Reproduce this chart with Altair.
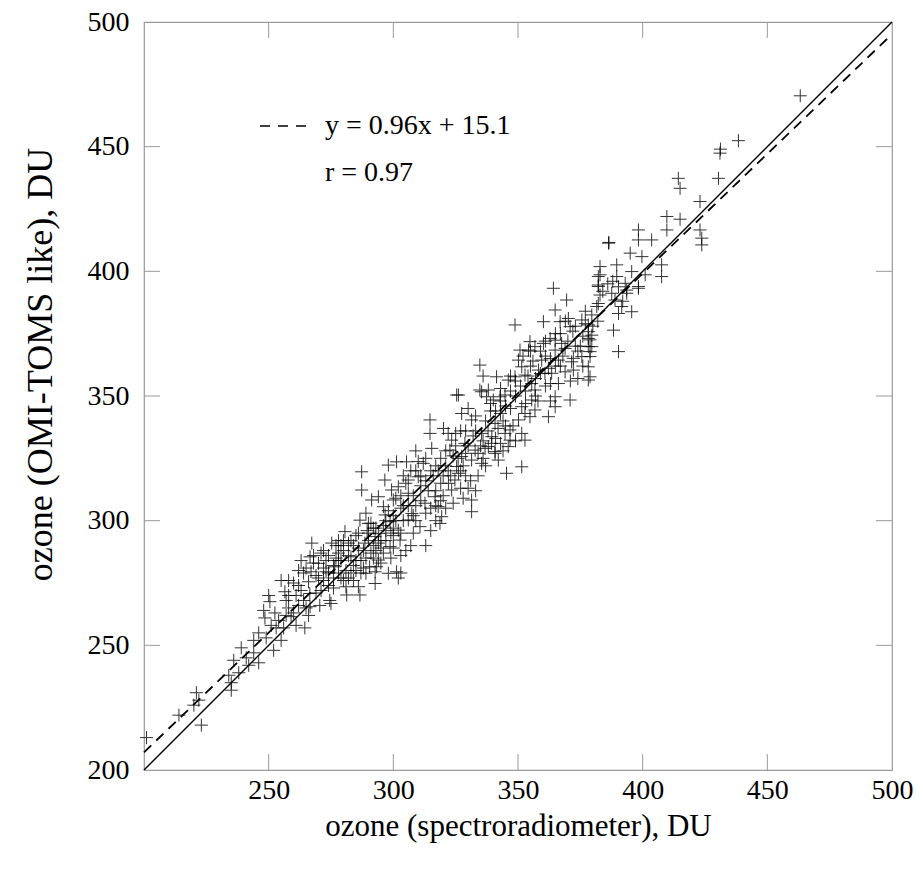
import altair as alt
import pandas as pd

# ---- data ----
spectro = [
    201, 214, 220, 221, 222, 223, 235, 235, 234, 236, 238, 239, 241, 242, 244, 246, 244,
    246, 248, 248.5, 249, 250, 250.5, 252, 252.5, 253, 254, 255, 256, 256.5, 257, 258, 259, 260, 258, 255, 251,
    261, 262, 263, 264, 264.5, 265, 266, 266.5, 266.6, 267, 266.6, 267.3, 268, 269, 270, 270.5, 271, 272, 273, 274, 274.5, 275, 275.3, 273, 272, 269, 262, 263,
    276, 276.5, 277, 278, 278, 279, 280, 280.6, 281, 281.3, 282, 283, 284, 285, 285, 286, 286.6, 286.6, 287, 288, 288.6, 289, 289.5, 290, 290, 287.3, 287.3, 276, 279, 282, 284, 286, 283, 280, 278,
    290.5, 291.3, 292, 292.7, 292.7, 292.7, 293.3, 294, 294, 294, 295, 296, 296.6, 296.7, 297, 298, 298, 298.7, 298.7, 299.3, 300, 300, 301.3, 301.3, 302, 302, 302.7, 303, 304, 304, 291, 289, 293, 295, 297, 299, 300, 296, 292, 303, 305, 303, 301, 302, 303,
    305.3, 306, 306, 307.4, 308, 309, 310, 310, 310.7, 312, 312.7, 313, 314, 314.7, 314.7, 315.4, 316, 316.7, 317, 318, 318.7, 319.4, 308, 306, 311, 313, 315, 317, 319, 320, 307, 309,
    320.1, 321, 322.1, 322.7, 323.4, 323.4, 324.7, 325.4, 325.4, 326.1, 326.1, 327.4, 327.4, 328, 328.7, 329, 330, 331.4, 331.4, 331.4, 331.4, 332.8, 333, 334, 334.7, 334.7, 335.4, 335.4, 335.4, 321, 324, 326, 329, 322, 330, 333, 327, 320,
    336.8, 337.4, 338.1, 338.1, 339.4, 339.5, 340.1, 340.8, 340.8, 340.8, 341.4, 342.1, 342.8, 344.8, 344.8, 345.4, 346.1, 346.1, 346.8, 346.8, 348.8, 348.8, 350.2, 350.2, 337, 339, 342, 343, 344, 347, 349, 336, 343, 348, 336,
    350.8, 351.5, 351.5, 351.5, 351.5, 352.8, 352.8, 352.8, 354.2, 354.8, 354.8, 355.5, 355.5, 356.8, 356.8, 356.8, 358.2, 359.5, 360.2, 360.2, 360.8, 362.2, 362.2, 362.9, 363.5, 364.2, 364.9, 364.9, 364.9, 364.9, 364.9, 353, 357, 361, 358, 363, 355,
    366.2, 366.2, 366.9, 367.5, 368.9, 368.9, 369.5, 370.2, 370.9, 370.9, 371.5, 372.2, 372.2, 373, 375.6, 375.6, 376, 378.2, 378.2, 378.2, 378.2, 378.9, 378.9, 378.2, 378.9, 378.2, 378.9, 379.6, 379.6, 379.6, 367, 374,
    381.6, 382.2, 382.2, 382.2, 382.9, 382.9, 382.9, 382.2, 386.3, 386.5, 387.6, 388.3, 388.9, 389.6, 389.6, 390.3, 390.3, 390.3, 391.6, 393, 393.6, 393.6, 395, 395.6, 395.6, 398.3, 398.3, 398.3, 398.3, 399.7, 401,
    403.6, 407.6, 407.6, 409.7, 409.7, 414.3, 415, 415, 423, 423, 423.7, 423.7, 430.4, 431, 431.2, 438.4, 463.2,
    271, 274, 277, 279, 281, 283, 285, 287, 289, 291, 293, 295, 297, 299, 300,
    304, 306, 308, 309, 311, 313, 315, 317, 318, 319,
    322, 324, 325, 327, 328, 330, 332, 334, 336, 338, 341, 343, 344, 345,
    347, 349, 352, 354, 356, 359, 361, 363, 365, 368, 370, 372, 374, 376, 377,
    258, 260, 262, 264, 266, 268, 270, 272, 274, 276, 278, 280, 282, 284, 286, 288, 290, 292, 294, 296, 298, 300, 257, 261, 265,
    301, 303, 305, 307, 309, 311, 313, 315, 317, 319, 321, 323, 325, 327, 329, 331, 333, 335, 337, 339,
    341, 343, 345, 347, 349, 351, 353, 355, 357, 359, 361, 363, 365, 367, 369, 371, 373, 375, 377, 380, 382, 384, 386, 388, 392,
]
omi = [
    213, 222, 226, 231, 228, 218, 232, 235, 238, 244, 239, 249, 245, 242, 247, 243, 252,
    255, 264, 261, 253, 270, 267.5, 248, 263, 257, 260, 276, 257, 271.5, 268, 276, 261.5, 263, 265, 252, 258,
    270, 274, 272, 268, 257, 265, 275.5, 270.8, 265.5, 279.5, 285.5, 291, 283, 278, 282.9, 266, 287, 281, 279.5, 274, 268, 266.8, 291, 284, 276, 271, 280, 284,
    282, 281.5, 285, 287, 279, 290, 288, 295.6, 273.5, 270.2, 277, 285.5, 290, 280, 294, 273.5, 270.2, 300.2, 284, 288, 291, 278.9, 296, 292, 298.9, 319.6, 312.3, 277, 284, 291, 282, 289, 279, 276, 292,
    281.5, 308.3, 285, 274.8, 279.5, 293.6, 281.5, 284.2, 294.9, 309.6, 289, 305.6, 316.3, 302.3, 292, 278.9, 322.3, 289.6, 299.6, 312.3, 308.3, 294, 279.5, 323.6, 296.2, 313.6, 292.2, 286, 300, 318, 299, 303, 297, 283, 296, 285, 302, 287, 290, 305, 288, 310, 300, 277, 279,
    323.6, 300.3, 316.3, 302.9, 295, 320, 317.6, 323.7, 297.6, 323, 307, 290, 312, 340.4, 335, 329, 318, 309.6, 300, 305.6, 298.9, 301.6, 310, 306, 314, 303, 296, 322, 315, 310, 290, 328,
    337, 322, 315, 328.3, 332.3, 312.3, 316.3, 321.7, 350.4, 319, 350.4, 343, 325.7, 309, 331, 318, 313, 340.4, 324.3, 308.3, 303.6, 328.3, 336, 318, 362.4, 352.4, 351.7, 335, 323, 305, 307, 325, 327, 335, 345, 312, 313, 318,
    329, 349.7, 352.4, 329.7, 331, 333.7, 348.4, 327.7, 339, 327, 357.7, 324.3, 349.7, 350.4, 335, 319, 356.4, 329.7, 336.4, 332.3, 378.5, 357.7, 364.4, 340.4, 340, 344, 337, 343, 328, 345, 350, 358, 353, 338, 325,
    368.4, 361.7, 345.7, 335, 321.6, 358.4, 343, 332.3, 368.4, 371.8, 341.7, 355, 348.4, 369.8, 352.4, 344.4, 360.4, 364.4, 379.8, 371.1, 359.1, 361.1, 341.7, 373.1, 359.1, 393.2, 384.5, 372.4, 368.4, 349.7, 345.7, 352, 357, 366, 348, 355, 362,
    364.4, 355, 379.8, 371.1, 369.1, 359.7, 388.5, 381.1, 377.8, 348.4, 363.7, 365.1, 360.4, 370, 380.5, 365.8, 374, 378.5, 373.1, 361.7, 356.4, 365.8, 357.7, 375.8, 372.5, 369.8, 367.8, 382.5, 374.4, 369.8, 375, 357,
    385.9, 394.5, 387.1, 393.9, 390.5, 401.9, 398.6, 397.9, 411.3, 411.6, 391.2, 376.4, 388.5, 402.6, 397.9, 393.8, 383.1, 367.8, 385.9, 395.2, 392.5, 391.2, 407.3, 383.8, 399.9, 393.2, 416.6, 412.6, 393.9, 405.9, 398.6,
    412.6, 402.6, 397.9, 422, 416.6, 437.3, 433.3, 420.9, 428, 416.6, 413.3, 410.6, 437.3, 447.4, 449, 452.4, 470.4,
    272, 286, 290, 277, 280, 292, 284, 279, 285, 287, 288, 292, 300, 295, 297,
    306, 311, 302, 306, 308, 316, 305, 312, 320, 308,
    320, 326, 330, 336, 322, 330, 334, 327, 332, 336, 344, 331, 340, 346,
    352, 356, 366, 358, 364, 368, 354, 365, 362, 366, 372, 376, 368, 362, 379,
    270, 275, 266, 279, 262, 286, 277, 288, 279, 273, 284, 292, 286, 276, 295, 281, 295, 297, 291, 298, 304, 289, 262, 258, 281,
    309, 295, 315, 320, 300, 318, 325, 320, 306, 325, 328, 318, 335, 320, 336, 316, 342, 330, 322, 347,
    333, 348, 338, 358, 332, 354, 347, 368, 350, 359, 372, 348, 375, 362, 380, 356, 378, 370, 384, 378, 380, 392, 395, 396, 388,
]
n = min(len(spectro), len(omi))
points = pd.DataFrame({"x": spectro[:n], "y": omi[:n]})

one_to_one_x = [200, 500]
one_to_one_y = [200, 500]
fit_x = [200, 500]
fit_y = [207.1, 495.1]  # y = 0.96x + 15.1

x_tick_labels = [250, 300, 350, 400, 450, 500]
y_tick_labels = [200, 250, 300, 350, 400, 450, 500]
inner_ticks = [250, 300, 350, 400, 450]

W, H = 748, 748
FONT = "'Liberation Serif', 'Times New Roman', Times, serif"

xs = alt.Scale(domain=[200, 500], nice=False, zero=False)
ys = alt.Scale(domain=[200, 500], nice=False, zero=False)

cross = "M-1,0L1,0M0,-1L0,1"

base_pts = alt.Chart(points).mark_point(
    shape=cross, size=170, filled=False, stroke="black", strokeWidth=1.0, opacity=0.8
).encode(
    x=alt.X("x:Q", scale=xs,
            axis=alt.Axis(values=x_tick_labels, title="ozone (spectroradiometer), DU",
                          domain=False, ticks=False, grid=False, labelFlush=False,
                          labelOverlap=False, labelFontSize=28, labelPadding=6,
                          labelColor="black", labelFont=FONT, titleFont=FONT,
                          titleFontSize=31, titleFontWeight="normal",
                          titleColor="black", titleX=374, titleY=56, titleBaseline="middle")),
    y=alt.Y("y:Q", scale=ys,
            axis=alt.Axis(values=y_tick_labels, title="ozone (OMI-TOMS like), DU",
                          domain=False, ticks=False, grid=False, labelFlush=False,
                          labelOverlap=False, labelFontSize=28, labelPadding=15,
                          labelColor="black", labelFont=FONT, titleFont=FONT,
                          titleFontSize=36, titleFontWeight="normal",
                          titleColor="black", titleX=-104, titleY=342, titleBaseline="middle")),
)

line_df = pd.DataFrame({"x": one_to_one_x, "y": one_to_one_y})
fit_df = pd.DataFrame({"x": fit_x, "y": fit_y})

one_line = alt.Chart(line_df).mark_line(color="black", strokeWidth=1.4).encode(
    x=alt.X("x:Q", scale=xs), y=alt.Y("y:Q", scale=ys))
fit_line = alt.Chart(fit_df).mark_line(color="black", strokeWidth=1.8, strokeDash=[10, 7]).encode(
    x=alt.X("x:Q", scale=xs), y=alt.Y("y:Q", scale=ys))

tick_df = pd.DataFrame({"v": inner_ticks})
tick_color = "#9a9a9a"
tb = alt.Chart(tick_df).mark_rule(color=tick_color, strokeWidth=1).encode(
    x=alt.X("v:Q", scale=xs), y=alt.value(H), y2=alt.value(H - 16))
tt = alt.Chart(tick_df).mark_rule(color=tick_color, strokeWidth=1).encode(
    x=alt.X("v:Q", scale=xs), y=alt.value(0), y2=alt.value(16))
tl = alt.Chart(tick_df).mark_rule(color=tick_color, strokeWidth=1).encode(
    y=alt.Y("v:Q", scale=ys), x=alt.value(0), x2=alt.value(16))
tr = alt.Chart(tick_df).mark_rule(color=tick_color, strokeWidth=1).encode(
    y=alt.Y("v:Q", scale=ys), x=alt.value(W), x2=alt.value(W - 16))

legend_dash = alt.Chart(pd.DataFrame({"a": [0]})).mark_rule(
    color="black", strokeWidth=1.6, strokeDash=[10, 8]).encode(
    x=alt.value(116), x2=alt.value(168), y=alt.value(104))

ann_df = pd.DataFrame({"t": ["y = 0.96x + 15.1", "r = 0.97"], "py": [104, 151]})
ann = alt.Chart(ann_df).mark_text(
    align="left", baseline="middle", fontSize=28, font=FONT, color="black").encode(
    x=alt.value(181), y=alt.Y("py:Q", scale=None), text="t:N")

chart = alt.layer(tb, tt, tl, tr, one_line, fit_line, base_pts, legend_dash, ann).properties(
    width=W, height=H,
    autosize=alt.AutoSizeParams(type="none"),
    padding={"left": 144, "top": 22, "right": 24, "bottom": 101},
).configure(font=FONT).configure_view(stroke="#9a9a9a", strokeWidth=1.2).configure_axis(
    labelFont=FONT, titleFont=FONT)

chart.save("out.html", embed_options={"renderer": "svg", "actions": False})
